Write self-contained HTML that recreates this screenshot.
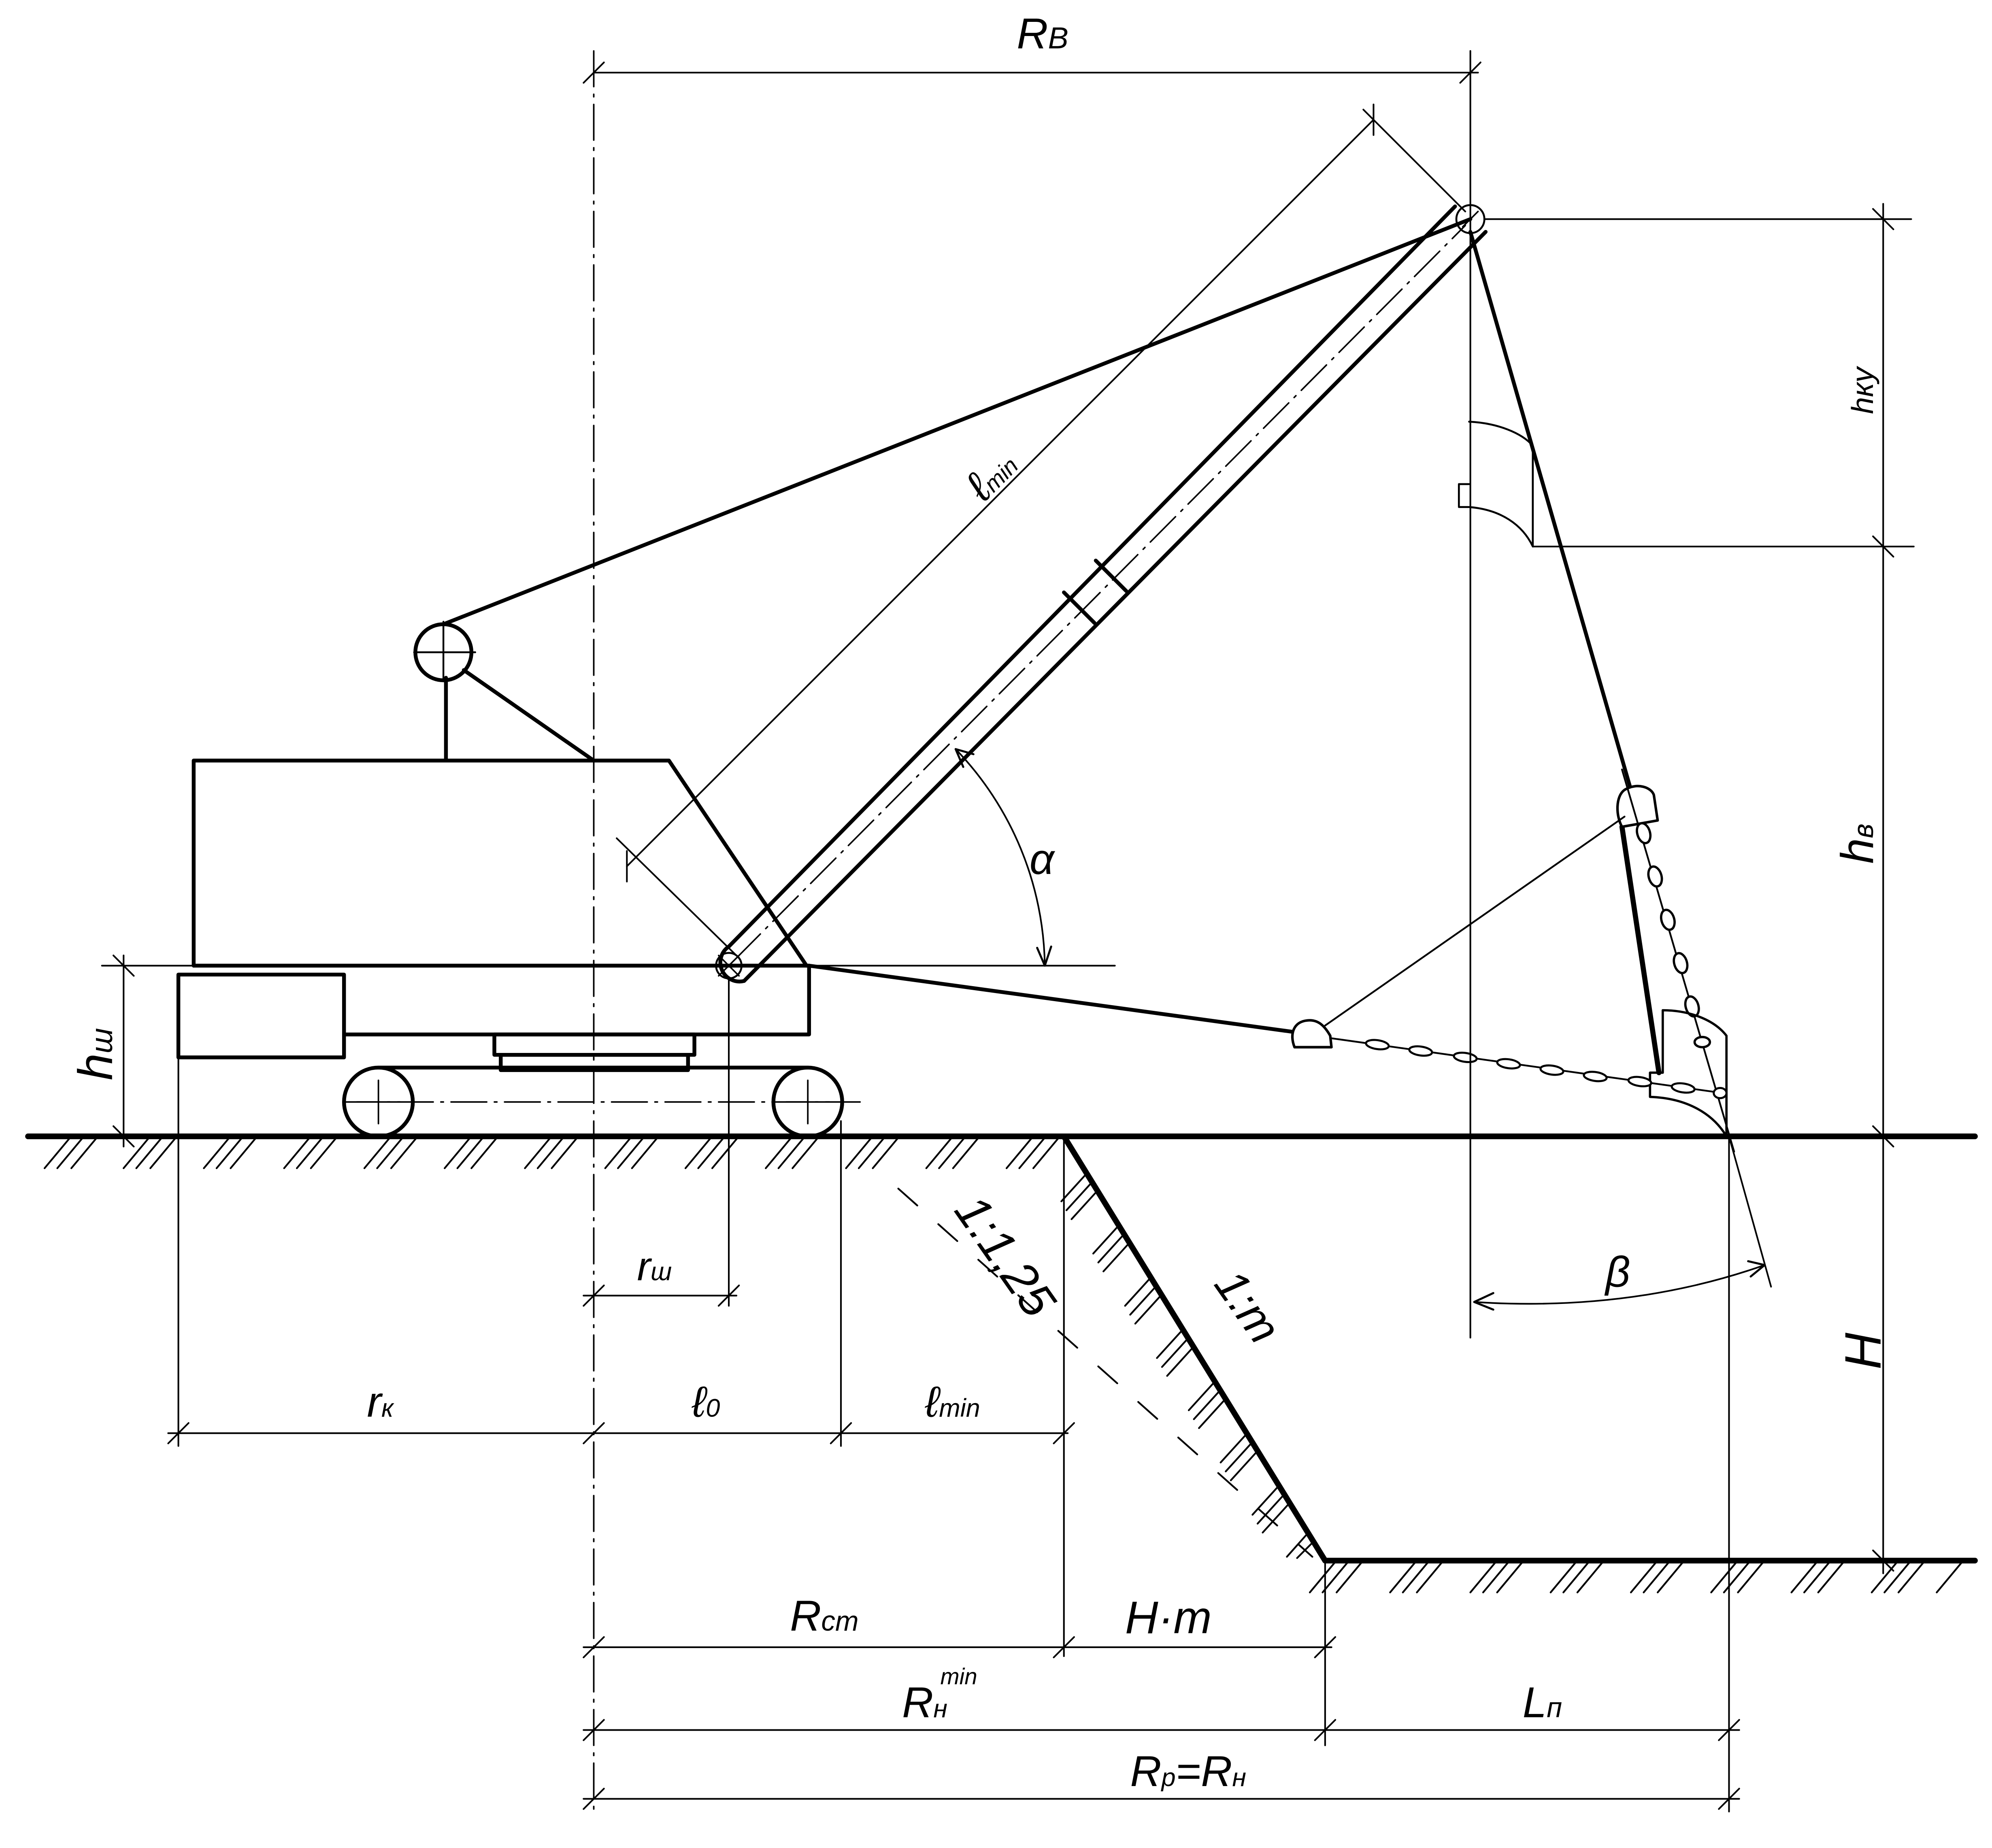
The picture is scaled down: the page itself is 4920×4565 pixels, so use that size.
<!DOCTYPE html>
<html><head><meta charset="utf-8"><style>
html,body{margin:0;padding:0;background:#fff;}
svg{display:block;}
text{font-family:"Liberation Sans",sans-serif;font-style:italic;fill:#000;}
</style></head><body>
<svg width="4920" height="4565" viewBox="0 0 1563.4 1450.6" preserveAspectRatio="none" xmlns="http://www.w3.org/2000/svg">
<g fill="none" stroke="#000" stroke-linecap="round" stroke-linejoin="round">
<!-- ground -->
<line x1="22" y1="892" x2="1550" y2="892" stroke-width="4.5"/>
<line x1="1040" y1="1225" x2="1550" y2="1225" stroke-width="4.5"/>
<line x1="835" y1="892" x2="1040" y2="1225" stroke-width="4.5"/>
<!-- hatching top ground -->
<g stroke-width="1.4">
<path d="M55,893l-20,24M65,893l-20,24M76,893l-20,24
M117,893l-20,24M127,893l-20,24M138,893l-20,24
M180,893l-20,24M190,893l-20,24M201,893l-20,24
M243,893l-20,24M253,893l-20,24M264,893l-20,24
M306,893l-20,24M316,893l-20,24M327,893l-20,24
M369,893l-20,24M379,893l-20,24M390,893l-20,24
M432,893l-20,24M442,893l-20,24M453,893l-20,24
M495,893l-20,24M505,893l-20,24M516,893l-20,24
M558,893l-20,24M568,893l-20,24M579,893l-20,24
M621,893l-20,24M631,893l-20,24M642,893l-20,24
M684,893l-20,24M694,893l-20,24M705,893l-20,24
M747,893l-20,24M757,893l-20,24M768,893l-20,24
M810,893l-20,24M820,893l-20,24M831,893l-20,24"/>
<path d="M1048,1226l-20,24M1058,1226l-20,24M1069,1226l-20,24
M1111,1226l-20,24M1121,1226l-20,24M1132,1226l-20,24
M1174,1226l-20,24M1184,1226l-20,24M1195,1226l-20,24
M1237,1226l-20,24M1247,1226l-20,24M1258,1226l-20,24
M1300,1226l-20,24M1310,1226l-20,24M1321,1226l-20,24
M1363,1226l-20,24M1373,1226l-20,24M1384,1226l-20,24
M1426,1226l-20,24M1436,1226l-20,24M1447,1226l-20,24
M1489,1226l-20,24M1499,1226l-20,24M1510,1226l-20,24
M1540,1226l-20,24"/>
<!-- slope hatches -->
<path d="M853,921l-20,22M857,928l-20,22M861,935l-20,22
M878,962l-20,22M882,969l-20,22M886,976l-20,22
M903,1003l-20,22M907,1010l-20,22M911,1017l-20,22
M928,1044l-20,22M932,1051l-20,22M936,1058l-20,22
M953,1085l-20,22M957,1092l-20,22M961,1099l-20,22
M978,1126l-20,22M982,1133l-20,22M986,1140l-20,22
M1003,1167l-20,22M1007,1174l-20,22M1011,1181l-20,22
M1026,1204l-16,18M1030,1211l-12,12"/>
</g>
<!-- dashed 1:1.25 line -->
<line x1="705" y1="933" x2="1030" y2="1222" stroke-width="1.4" stroke-dasharray="20,22"/>
<!-- centerline -->
<line x1="466" y1="40" x2="466" y2="1420" stroke-width="1.2" stroke-dasharray="28,6,2,6"/>
<!-- machine -->
<g stroke-width="3">
<path d="M152,758V597H525L633,758"/>
<path d="M152,758H635V812H270"/>
<rect x="140" y="765" width="130" height="65"/>
<rect x="388" y="812" width="157" height="16"/>
<rect x="393" y="828" width="147" height="12"/>
<circle cx="297" cy="865" r="27"/>
<circle cx="634" cy="865" r="27"/>
<line x1="297" y1="838" x2="634" y2="838"/>
<line x1="297" y1="892" x2="634" y2="892"/>
<line x1="350" y1="532" x2="350" y2="597"/>
<line x1="364" y1="526" x2="466" y2="597"/>
<circle cx="348" cy="512" r="22"/>
<line x1="348" y1="490" x2="1154" y2="172"/>
<!-- boom -->
<path d="M572,743L1142,162M584,770L1166,182"/>
<path d="M572,743A15,15 0 0 0 584,770"/>
<path d="M835,465L859,489M860,440L884,464"/>
<line x1="635" y1="758" x2="1015" y2="810"/>
<line x1="1154" y1="182" x2="1280" y2="620"/>
<line x1="1273" y1="649" x2="1302" y2="842" stroke-width="4"/>
</g>
<line x1="270" y1="865" x2="675" y2="865" stroke-width="1.2" stroke-dasharray="28,6,2,6"/>
<path d="M297,848v34M280,865h34M634,848v34M617,865h34" stroke-width="1.2"/>
<path d="M325,512h48M348,488v46" stroke-width="1.4"/>
<line x1="577" y1="753" x2="1150" y2="177" stroke-width="1.2" stroke-dasharray="28,6,2,6"/>
<circle cx="572" cy="758" r="10" stroke-width="1.5"/>
<circle cx="1154" cy="172" r="11" stroke-width="1.5"/>
<path d="M564,750l16,16M580,750l-16,16M1148,178l12,-12" stroke-width="1.2"/>
<!-- upper bucket -->
<path d="M1153,331C1175,332 1195,340 1203,350V429M1153,398C1178,400 1195,412 1203,429M1153,380h-8v18h8" stroke-width="1.5"/>
<!-- hanging bucket -->
<path d="M1273,649C1268,640 1268,625 1275,620C1285,614 1296,618 1298,624L1301,644Z" stroke-width="2" fill="#fff"/>
<line x1="1273" y1="604" x2="1361" y2="904" stroke-width="1.4"/>
<g stroke-width="1.8" fill="#fff">
<ellipse cx="1290" cy="654" rx="5" ry="8" transform="rotate(-16 1290 654)"/>
<ellipse cx="1299" cy="688" rx="5" ry="8" transform="rotate(-16 1299 688)"/>
<ellipse cx="1309" cy="722" rx="5" ry="8" transform="rotate(-16 1309 722)"/>
<ellipse cx="1319" cy="756" rx="5" ry="8" transform="rotate(-16 1319 756)"/>
<ellipse cx="1328" cy="790" rx="5" ry="8" transform="rotate(-16 1328 790)"/>
<ellipse cx="1336" cy="818" rx="6" ry="4"/>
</g>
<path d="M1305,842V793C1325,793 1345,800 1355,813V892M1305,842h-10v19C1325,862 1345,875 1355,892" stroke-width="1.8"/>
<!-- drag bucket and chain -->
<path d="M1016,822C1012,812 1015,802 1026,801C1035,800 1040,806 1044,813L1045,822Z" stroke-width="2" fill="#fff"/>
<line x1="1045" y1="815" x2="1352" y2="858" stroke-width="1.4"/>
<g stroke-width="1.6" fill="#fff">
<ellipse cx="1081" cy="820" rx="9" ry="3.5" transform="rotate(8 1081 820)"/>
<ellipse cx="1115" cy="825" rx="9" ry="3.5" transform="rotate(8 1115 825)"/>
<ellipse cx="1150" cy="830" rx="9" ry="3.5" transform="rotate(8 1150 830)"/>
<ellipse cx="1184" cy="835" rx="9" ry="3.5" transform="rotate(8 1184 835)"/>
<ellipse cx="1218" cy="840" rx="9" ry="3.5" transform="rotate(8 1218 840)"/>
<ellipse cx="1252" cy="845" rx="9" ry="3.5" transform="rotate(8 1252 845)"/>
<ellipse cx="1287" cy="849" rx="9" ry="3.5" transform="rotate(8 1287 849)"/>
<ellipse cx="1321" cy="854" rx="9" ry="3.5" transform="rotate(8 1321 854)"/>
<ellipse cx="1350" cy="858" rx="5" ry="4"/>
</g>
<line x1="1040" y1="805" x2="1275" y2="641" stroke-width="1.4"/>
<!-- dimension & extension lines -->
<g stroke-width="1.3">
<line x1="80" y1="758" x2="875" y2="758"/>
<line x1="97" y1="750" x2="97" y2="900"/>
<path d="M89,750l16,16M89,884l16,16"/>
<line x1="140" y1="830" x2="140" y2="1135"/>
<line x1="660" y1="880" x2="660" y2="1135"/>
<line x1="572" y1="768" x2="572" y2="1025"/>
<line x1="835" y1="892" x2="835" y2="1300"/>
<line x1="1040" y1="1225" x2="1040" y2="1370"/>
<line x1="1357" y1="892" x2="1357" y2="1422"/>
<line x1="1154" y1="40" x2="1154" y2="1050"/>
<line x1="466" y1="57" x2="1160" y2="57"/>
<path d="M458,65l16,-16M1146,65l16,-16"/>
<line x1="458" y1="1017" x2="578" y2="1017"/>
<path d="M458,1025l16,-16M564,1025l16,-16"/>
<line x1="132" y1="1125" x2="838" y2="1125"/>
<path d="M132,1133l16,-16M458,1133l16,-16M652,1133l16,-16M827,1133l16,-16"/>
<line x1="458" y1="1293" x2="1045" y2="1293"/>
<path d="M458,1301l16,-16M827,1301l16,-16M1032,1301l16,-16"/>
<line x1="458" y1="1358" x2="1365" y2="1358"/>
<path d="M458,1366l16,-16M1032,1366l16,-16M1349,1366l16,-16"/>
<line x1="458" y1="1412" x2="1365" y2="1412"/>
<path d="M458,1420l16,-16M1349,1420l16,-16"/>
<line x1="1165" y1="172" x2="1500" y2="172"/>
<line x1="1203" y1="429" x2="1502" y2="429"/>
<line x1="1478" y1="160" x2="1478" y2="1235"/>
<path d="M1470,164l16,16M1470,421l16,16M1470,884l16,16M1470,1217l16,16"/>
<!-- lmin inclined -->
<line x1="580" y1="752" x2="484" y2="658"/>
<line x1="1150" y1="166" x2="1070" y2="86"/>
<line x1="492" y1="680" x2="1078" y2="94"/>
<path d="M492,668v24M1078,82v24"/>
<!-- alpha arc -->
<path d="M750,588A250,250 0 0 1 820,758"/>
<path d="M750,588l6,14M750,588l14,4M820,758l-6,-14M820,758l5,-15" stroke-width="1.6"/>
<!-- beta -->
<line x1="1357" y1="892" x2="1390" y2="1010"/>
<path d="M1157,1022Q1280,1030 1385,993"/>
<path d="M1157,1022l15,-7M1157,1022l15,6M1385,993l-13,-3M1385,993l-11,9" stroke-width="1.6"/>
</g>
</g>
<!-- labels -->
<g font-size="34">
<text x="798" y="38" font-size="34">R<tspan font-size="24" dy="0">B</tspan></text>
<text x="0" y="0" font-size="34" transform="translate(772,395) rotate(-45)">ℓ<tspan font-size="18">min</tspan></text>
<text x="808" y="686" font-size="34">α</text>
<text x="1260" y="1010" font-size="34">β</text>
<text x="0" y="0" font-size="24" transform="translate(1470,325) rotate(-90)">hку</text>
<text x="0" y="0" font-size="36" transform="translate(1470,678) rotate(-90)">h<tspan font-size="22">в</tspan></text>
<text x="0" y="0" font-size="40" transform="translate(1476,1075) rotate(-90)">H</text>
<text x="0" y="0" font-size="38" transform="translate(88,848) rotate(-90)">h<tspan font-size="24">ш</tspan></text>
<text x="500" y="1005" font-size="32">r<tspan font-size="20">ш</tspan></text>
<text x="288" y="1112" font-size="34">r<tspan font-size="20">к</tspan></text>
<text x="543" y="1112" font-size="34">ℓ<tspan font-size="20">0</tspan></text>
<text x="726" y="1112" font-size="34">ℓ<tspan font-size="20">min</tspan></text>
<text x="620" y="1280" font-size="34">R<tspan font-size="22">cm</tspan></text>
<text x="883" y="1282" font-size="36">H·m</text>
<text x="708" y="1348" font-size="34">R<tspan font-size="20">н</tspan></text>
<text x="738" y="1322" font-size="18">min</text>
<text x="1195" y="1348" font-size="34">L<tspan font-size="22">п</tspan></text>
<text x="887" y="1402" font-size="34">R<tspan font-size="20">р</tspan>=R<tspan font-size="20">н</tspan></text>
<text x="0" y="0" font-size="38" transform="translate(748,950) rotate(55)">1:1,25</text>
<text x="0" y="0" font-size="36" transform="translate(952,1008) rotate(55)">1:m</text>
</g>
</svg>
</body></html>
